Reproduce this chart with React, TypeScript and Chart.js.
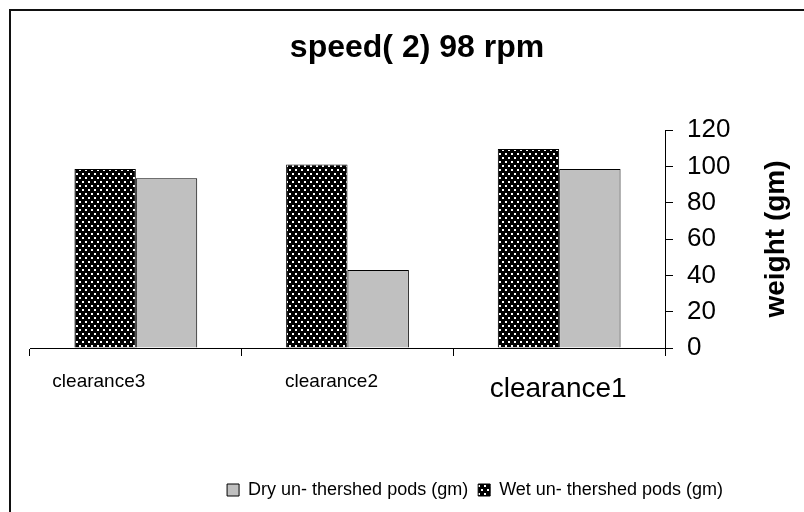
import React, { useEffect, useRef } from "react";
import { Chart, registerables } from "chart.js";

Chart.register(...registerables);

const categories = ["clearance3", "clearance2", "clearance1"];
const wetValues = [98.5, 101, 109.5];
const dryValues = [93.5, 43, 98.5];
const yTickMin = 0;
const yTickMax = 120;
const yTickStep = 20;
const chartTitle = "speed( 2) 98 rpm";
const yAxisTitle = "weight (gm)";
const dryLabel = "Dry un- thershed pods (gm)";
const wetLabel = "Wet un- thershed pods (gm)";

const FONT = "'Liberation Sans', Arial, sans-serif";
const LABEL_SHIFT = [-37, -16, -1];
const LABEL_SIZE = [19, 19, 28];
const LABEL_DY = [34, 34, 41];

function makePattern(): CanvasPattern | string {
  const c = document.createElement("canvas");
  c.width = 6;
  c.height = 8;
  const g = c.getContext("2d");
  if (!g) return "#000";
  g.fillStyle = "#000";
  g.fillRect(0, 0, 6, 8);
  g.fillStyle = "#fff";
  g.fillRect(1, 1, 2, 2);
  g.fillRect(4, 5, 2, 2);
  return g.createPattern(c, "repeat") || "#000";
}

const framePlugin = {
  id: "frame",
  afterDraw(chart: any) {
    const ctx = chart.ctx;
    ctx.save();
    ctx.strokeStyle = "#111";
    ctx.lineWidth = 2;
    ctx.strokeRect(10, 10, 1200, 1200);
    ctx.restore();
  },
};

const xLabelPlugin = {
  id: "xLabels",
  afterDraw(chart: any) {
    const xs = chart.scales.x;
    const ctx = chart.ctx;
    ctx.save();
    ctx.fillStyle = "#000";
    ctx.textAlign = "center";
    ctx.textBaseline = "middle";
    categories.forEach((c, i) => {
      ctx.font = `${LABEL_SIZE[i]}px ${FONT}`;
      ctx.fillText(c, xs.getPixelForValue(i) + LABEL_SHIFT[i], xs.top + LABEL_DY[i]);
    });
    ctx.restore();
  },
};

const yTitlePlugin = {
  id: "yTitle",
  afterDraw(chart: any) {
    const ys = chart.scales.y;
    const ctx = chart.ctx;
    ctx.save();
    ctx.translate(ys.right - 28, (ys.top + ys.bottom) / 2);
    ctx.rotate(-Math.PI / 2);
    ctx.fillStyle = "#000";
    ctx.font = `bold 28px ${FONT}`;
    ctx.textAlign = "center";
    ctx.textBaseline = "middle";
    ctx.fillText(yAxisTitle, 0, 0);
    ctx.restore();
  },
};

const legendShiftPlugin = {
  id: "legendShift",
  afterLayout(chart: any) {
    const lg = chart.legend;
    if (lg) {
      lg.left += 58;
      lg.right += 58;
    }
  },
};

export default function App() {
  const ref = useRef<HTMLCanvasElement | null>(null);

  useEffect(() => {
    if (!ref.current) return;
    const pattern = makePattern();
    const chart = new Chart(ref.current, {
      type: "bar",
      data: {
        labels: categories,
        datasets: [
          {
            label: wetLabel,
            data: wetValues,
            backgroundColor: pattern as any,
            borderColor: "#000",
            borderWidth: 1,
          },
          {
            label: dryLabel,
            data: dryValues,
            backgroundColor: "#c0c0c0",
            borderColor: "#000",
            borderWidth: 1,
          },
        ],
      },
      options: {
        responsive: false,
        animation: false,
        layout: { padding: { left: 30, right: 0, top: 0, bottom: 3 } },
        datasets: {
          bar: { categoryPercentage: 0.58, barPercentage: 1 },
        },
        plugins: {
          title: {
            display: true,
            text: chartTitle,
            color: "#000",
            font: { family: FONT, size: 32, weight: "bold" },
            padding: { top: 29, bottom: 62.6 },
          },
          legend: {
            display: true,
            position: "bottom",
            reverse: true,
            labels: {
              color: "#000",
              font: { family: FONT, size: 18 },
              boxWidth: 12,
              boxHeight: 12,
              padding: 10,
            },
          },
          tooltip: { enabled: false },
        },
        scales: {
          x: {
            type: "category",
            offset: true,
            afterFit: (s: any) => {
              s.height = 123;
            },
            grid: {
              offset: true,
              drawOnChartArea: false,
              drawTicks: true,
              tickLength: 8,
              color: "#000",
            },
            border: { display: true, color: "#000", width: 1 },
            ticks: { display: false },
          },
          y: {
            position: "right",
            min: yTickMin,
            max: yTickMax,
            afterFit: (s: any) => {
              s.width = 139;
            },
            ticks: {
              stepSize: yTickStep,
              color: "#000",
              padding: 14,
              font: { family: FONT, size: 26 },
            },
            grid: {
              drawOnChartArea: false,
              drawTicks: true,
              tickLength: 8,
              color: "#000",
            },
            border: { display: true, color: "#000", width: 1 },
          },
        },
      },
      plugins: [framePlugin, xLabelPlugin, yTitlePlugin, legendShiftPlugin],
    });
    return () => chart.destroy();
  }, []);

  return (
    <div style={{ position: "fixed", left: 0, top: 0, width: 804, height: 512, background: "#fff" }}>
      <canvas ref={ref} width={804} height={512} style={{ display: "block" }} />
    </div>
  );
}
